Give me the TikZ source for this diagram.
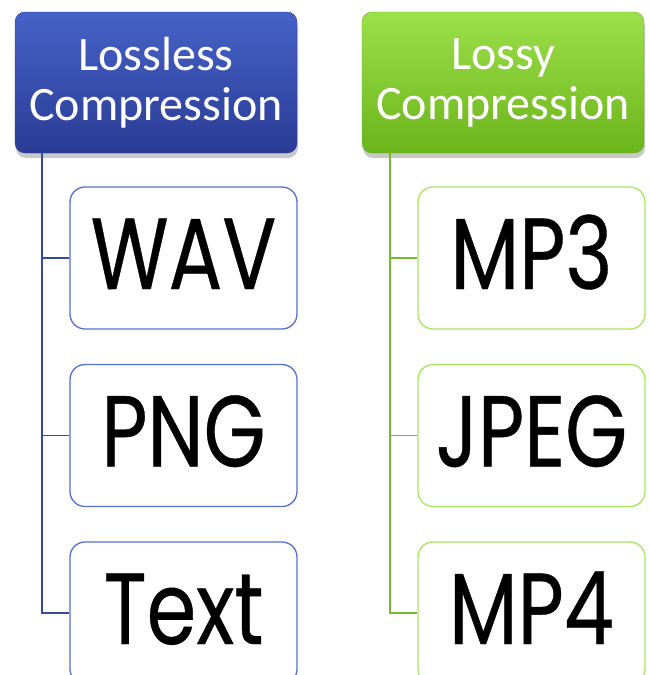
\documentclass[tikz,border=0pt]{standalone}
\usepackage{fontspec}
\setmainfont{Carlito}
\newfontfamily\itemfont[FakeStretch=0.79,FakeBold=0.4]{Poppins}
\usetikzlibrary{shadows}
\definecolor{bluetop}{RGB}{70,98,200}
\definecolor{bluebot}{RGB}{42,60,148}
\definecolor{greentop}{RGB}{156,224,74}
\definecolor{greenbot}{RGB}{108,180,28}
\definecolor{blueedge}{RGB}{84,112,208}
\definecolor{greenedge}{RGB}{166,232,96}
\definecolor{blueline}{RGB}{52,72,160}
\definecolor{greenline}{RGB}{118,188,48}
\tikzset{
  header/.style={rounded corners=10pt, minimum width=282pt, minimum height=141pt,
    text=white, align=center, inner sep=0pt,
    font=\fontsize{48}{50}\selectfont,
    drop shadow={shadow xshift=1pt, shadow yshift=-5pt, opacity=0.35, fill=black!60}},
  lossless/.style={header, draw=bluebot, top color=bluetop, bottom color=bluebot},
  lossy/.style={header, draw=greenbot, top color=greentop, bottom color=greenbot},
  item/.style={rounded corners=15pt, minimum width=227pt, minimum height=142pt,
    fill=white, line width=1.3pt, inner sep=0pt, text height=71pt, text depth=9pt,
    font=\itemfont\fontsize{101}{101}\selectfont},
  blueitem/.style={item, draw=blueedge},
  greenitem/.style={item, draw=greenedge},
  bluelink/.style={draw=blueline, line width=1.6pt},
  greenlink/.style={draw=greenline, line width=1.6pt}
}
\begin{document}
\begin{tikzpicture}[x=1pt,y=-1pt]
\clip (0,0) rectangle (650,675);
\fill[white] (0,0) rectangle (650,675);
\node[lossless] (lh) at (156,82.5) {Lossless\\Compression};
\node[lossy] (rh) at (503,82.5) {Lossy\\Compression};
\node[blueitem] (wav) at (183.5,258) {WAV};
\node[blueitem] (png) at (183.5,435.5) {PNG};
\node[blueitem] (txt) at (183.5,613) {Text};
\node[greenitem] (mp3) at (531.5,258) {MP3};
\node[greenitem] (jpg) at (531.5,435.5) {JPEG};
\node[greenitem] (mp4) at (531.5,613) {MP4};
\draw[bluelink] ([xshift=27pt]lh.south west) |- (txt.west);
\draw[bluelink] ([xshift=27pt]lh.south west |- wav.west) -- (wav.west);
\draw[bluelink] ([xshift=27pt]lh.south west |- png.west) -- (png.west);
\draw[greenlink] ([xshift=28pt]rh.south west) |- (mp4.west);
\draw[greenlink] ([xshift=28pt]rh.south west |- mp3.west) -- (mp3.west);
\draw[greenlink] ([xshift=28pt]rh.south west |- jpg.west) -- (jpg.west);
\end{tikzpicture}
\end{document}
